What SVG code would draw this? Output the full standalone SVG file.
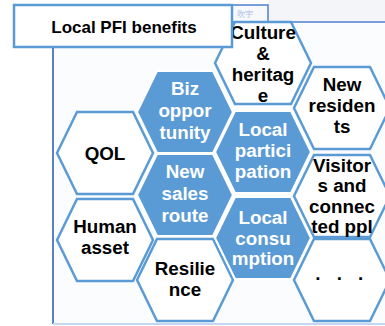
<svg xmlns="http://www.w3.org/2000/svg" width="385" height="326" viewBox="0 0 385 326">
<style>
.hw{fill:#ffffff;stroke:#5b9bd5;stroke-width:2.5}
.hb{fill:#5b9bd5;stroke:#ffffff;stroke-width:2}
.t{font-family:"Liberation Sans",Arial,sans-serif;font-weight:bold;font-size:18.8px;text-anchor:middle}
.tk{fill:#000000}
.tw{fill:#ffffff}
</style>
<defs>
<polygon id="hex" points="-48,0 -28,-41 28,-41 48,0 28,41 -28,41"/>
</defs>
<rect x="0" y="0" width="385" height="326" fill="#ffffff"/>
<g id="panel">
<rect x="268" y="0" width="117" height="22" fill="#f3f5f8"/>
<rect x="53" y="22" width="332" height="302" fill="#fafcfe"/>
<rect x="232" y="5" width="36" height="17" fill="#f7f9fc" stroke="#4f7fcf" stroke-width="1.5"/>
<text x="245" y="17" font-family="'Noto Sans CJK JP',sans-serif" font-size="8" fill="#a9bde6" text-anchor="middle">吹宇</text>
<line x1="232" y1="22" x2="385" y2="22" stroke="#4f7fcf" stroke-width="1.5"/>
<line x1="53" y1="46" x2="53" y2="324" stroke="#4a72c4" stroke-width="1.8"/>
<line x1="53" y1="324" x2="385" y2="324" stroke="#c3d7f0" stroke-width="2"/>
</g>
<g id="qol"><use href="#hex" class="hw" transform="translate(105,153)"/><text class="t tk" x="105" y="160">QOL</text></g>
<g id="human-asset"><use href="#hex" class="hw" transform="translate(105,240)"/><text class="t tk" y="233"><tspan x="105">Human</tspan><tspan x="105" dy="20.5">asset</tspan></text></g>
<g id="biz-opportunity"><use href="#hex" class="hb" transform="translate(185,112)"/><text class="t tw" y="95"><tspan x="185">Biz</tspan><tspan x="185" dy="22">oppor</tspan><tspan x="185" dy="22">tunity</tspan></text></g>
<g id="new-sales-route"><use href="#hex" class="hb" transform="translate(185,195)"/><text class="t tw" y="178"><tspan x="185">New</tspan><tspan x="185" dy="22">sales</tspan><tspan x="185" dy="22">route</tspan></text></g>
<g id="resilience"><use href="#hex" class="hw" transform="translate(185,280)"/><text class="t tk" y="275"><tspan x="185">Resilie</tspan><tspan x="185" dy="20.5">nce</tspan></text></g>
<g id="culture-heritage"><use href="#hex" class="hw" transform="translate(263,63)"/><text class="t tk" y="39"><tspan x="263">Culture</tspan><tspan x="263" dy="21">&amp;</tspan><tspan x="263" dy="21">heritag</tspan><tspan x="263" dy="21">e</tspan></text></g>
<g id="local-participation"><use href="#hex" class="hb" transform="translate(263,152)"/><text class="t tw" y="136"><tspan x="263">Local</tspan><tspan x="263" dy="21">partici</tspan><tspan x="263" dy="21">pation</tspan></text></g>
<g id="local-consumption"><use href="#hex" class="hb" transform="translate(263,238)"/><text class="t tw" y="224"><tspan x="263">Local</tspan><tspan x="263" dy="20.5">consu</tspan><tspan x="263" dy="20.5">mption</tspan></text></g>
<g id="new-residents"><use href="#hex" class="hw" transform="translate(342,108)"/><text class="t tk" y="91"><tspan x="342">New</tspan><tspan x="342" dy="21">residen</tspan><tspan x="342" dy="21">ts</tspan></text></g>
<g id="visitors"><use href="#hex" class="hw" transform="translate(342,196)"/><text class="t tk" y="172"><tspan x="342">Visitor</tspan><tspan x="342" dy="20.3">s and</tspan><tspan x="342" dy="20.3">connec</tspan><tspan x="342" dy="20.3">ted ppl</tspan></text></g>
<g id="more"><use href="#hex" class="hw" transform="translate(342,280)"/><text class="t tk" x="342" y="280" font-size="11" letter-spacing="5.5">. . .</text></g>
<g id="connectors"/>
<g id="title"><rect x="14" y="5" width="218" height="42" fill="#ffffff" stroke="#5b9bd5" stroke-width="2.5"/><text x="124" y="33" font-family="'Liberation Sans',Arial,sans-serif" font-weight="bold" font-size="17" text-anchor="middle" fill="#000000">Local PFI benefits</text></g>
</svg>
